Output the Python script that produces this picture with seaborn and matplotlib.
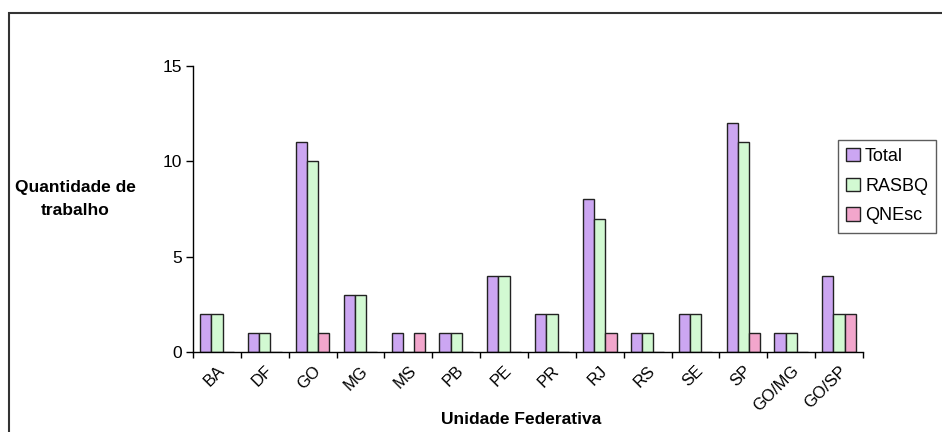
import pandas as pd
import matplotlib.pyplot as plt
import matplotlib.patches as mpatches
import seaborn as sns

# Data
ufs = ['BA', 'DF', 'GO', 'MG', 'MS', 'PB', 'PE', 'PR', 'RJ', 'RS', 'SE', 'SP', 'GO/MG', 'GO/SP']
total = [2, 1, 11, 3, 1, 1, 4, 2, 8, 1, 2, 12, 1, 4]
rasbq = [2, 1, 10, 3, 0, 1, 4, 2, 7, 1, 2, 11, 1, 2]
qnesc = [0, 0, 1, 0, 1, 0, 0, 0, 1, 0, 0, 1, 0, 2]
series = ['Total', 'RASBQ', 'QNEsc']
colors = ['#CC99FF', '#CCFFCC', '#FF99CC']

df = pd.DataFrame({'uf': ufs * 3,
                   'valor': total + rasbq + qnesc,
                   'serie': [s for s in series for _ in ufs]})

sns.set_style('white')
plt.rcParams['font.family'] = ['Liberation Sans', 'DejaVu Sans']
plt.rcParams['text.color'] = 'black'
plt.rcParams['axes.labelcolor'] = 'black'
plt.rcParams['xtick.color'] = 'black'
plt.rcParams['ytick.color'] = 'black'

fig = plt.figure(figsize=(9.42, 4.32), dpi=100)
ax = fig.add_axes([193 / 942, 1 - 352 / 432, 670 / 942, 286 / 432])

sns.barplot(data=df, x='uf', y='valor', hue='serie', order=ufs, hue_order=series,
            palette=colors, edgecolor='#222222', linewidth=1, width=0.7, ax=ax)

# outer chart border (Excel-style frame)
fig.patches.append(mpatches.Rectangle((9 / 942, -0.1), 1.2, 1 - 13 / 432 + 0.1,
                                      transform=fig.transFigure, fill=False,
                                      edgecolor='#333333', linewidth=1.5))

ax.set_xlim(-0.5, len(ufs) - 0.5)
ax.set_ylim(0, 15)
ax.set_yticks([0, 5, 10, 15])
ax.tick_params(axis='y', direction='out', length=5, width=1, labelsize=12.5, pad=3, left=True)
ax.set_xticks(range(len(ufs)))
ax.set_xticks([i - 0.5 for i in range(len(ufs) + 1)], minor=True)
ax.tick_params(axis='x', which='major', length=0, pad=8)
ax.tick_params(axis='x', which='minor', direction='out', length=4, width=1, bottom=True)
ax.set_xticklabels(ufs, rotation=45, ha='right', rotation_mode='anchor', fontsize=12)

for s in ['top', 'right']:
    ax.spines[s].set_visible(False)
for s in ['left', 'bottom']:
    ax.spines[s].set_color('black')
    ax.spines[s].set_linewidth(1)

ax.set_xlabel('Unidade Federativa', fontsize=12.5, fontweight='bold')
ax.xaxis.set_label_coords(0.49, -0.21)
ax.set_ylabel('Quantidade de\ntrabalho', fontsize=12.5, fontweight='bold',
              rotation=0, ha='center', va='center', linespacing=1.7)
ax.yaxis.set_label_coords(-0.176, 0.535)

sns.move_legend(ax, 'upper left', bbox_to_anchor=(838 / 942, 1 - 140 / 432),
                bbox_transform=fig.transFigure, borderaxespad=0, title=None,
                frameon=True, fancybox=False, edgecolor='#333333', fontsize=13,
                handlelength=0.75, handleheight=0.75, handletextpad=0.3,
                labelspacing=0.7, borderpad=0.45)
ax.get_legend().get_frame().set_linewidth(1)

fig.savefig('out.png', dpi=100)
